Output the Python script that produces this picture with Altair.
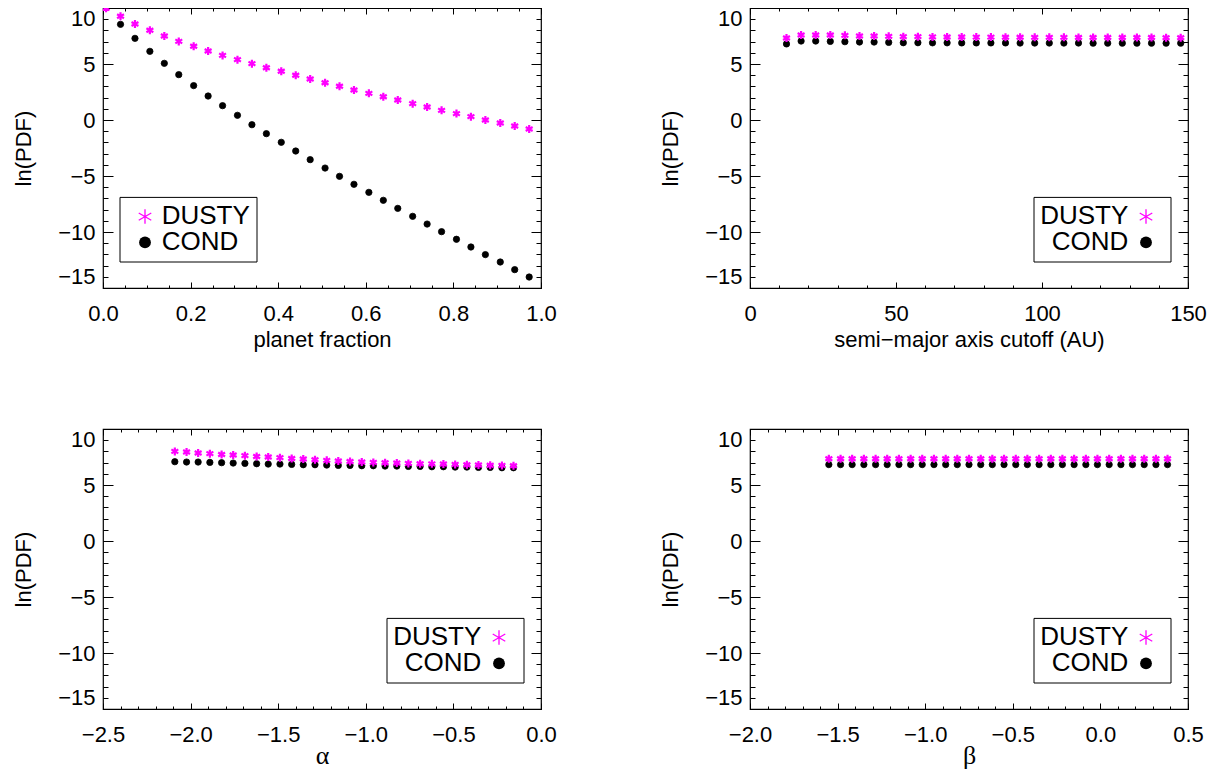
import altair as alt
import pandas as pd

# ---------------- data ----------------
series_names = ["DUSTY", "COND"]

# panel 1: planet fraction
pf_x = [0.007, 0.040, 0.073, 0.107, 0.140, 0.173, 0.207, 0.240, 0.273, 0.307,
        0.340, 0.373, 0.407, 0.440, 0.473, 0.507, 0.540, 0.573, 0.607, 0.640,
        0.673, 0.707, 0.740, 0.773, 0.807, 0.840, 0.873, 0.907, 0.940, 0.973]
pf_dusty = [9.98, 9.26, 8.57, 8.01, 7.50, 7.02, 6.58, 6.16, 5.77, 5.39,
            5.03, 4.67, 4.35, 3.99, 3.66, 3.33, 3.01, 2.68, 2.38, 2.08,
            1.79, 1.46, 1.16, 0.86, 0.57, 0.30, 0.00, -0.27, -0.54, -0.80]
pf_cond = [10.05, 8.54, 7.29, 6.13, 5.06, 4.05, 3.07, 2.14, 1.28, 0.42,
           -0.42, -1.22, -1.99, -2.77, -3.54, -4.29, -5.03, -5.74, -6.46, -7.17,
           -7.89, -8.60, -9.29, -9.97, -10.65, -11.34, -12.02, -12.68, -13.36, -14.02]

# panel 2: semi-major axis cutoff (AU)
sa_x = [12.5, 17.5, 22.5, 27.5, 32.5, 37.5, 42.5, 47.5, 52.5, 57.5,
        62.5, 67.5, 72.5, 77.5, 82.5, 87.5, 92.5, 97.5, 102.5, 107.5,
        112.5, 117.5, 122.5, 127.5, 132.5, 137.5, 142.5, 147.5]
sa_dusty = [7.32, 7.59, 7.59, 7.59, 7.56, 7.50, 7.50, 7.47, 7.44, 7.44,
            7.42, 7.41, 7.41, 7.40, 7.40, 7.39, 7.39, 7.38, 7.38, 7.38,
            7.37, 7.37, 7.37, 7.36, 7.36, 7.36, 7.35, 7.35]
sa_cond = [6.79, 7.05, 7.05, 7.02, 6.99, 6.96, 6.96, 6.93, 6.90, 6.90,
           6.89, 6.89, 6.88, 6.88, 6.88, 6.88, 6.87, 6.87, 6.87, 6.87,
           6.87, 6.86, 6.86, 6.86, 6.86, 6.86, 6.86, 6.86]

# panel 3: alpha
al_x = [-2.090, -2.023, -1.957, -1.890, -1.823, -1.757, -1.690, -1.623, -1.557, -1.490,
        -1.423, -1.357, -1.290, -1.223, -1.157, -1.090, -1.023, -0.957, -0.890, -0.823,
        -0.757, -0.690, -0.623, -0.557, -0.490, -0.423, -0.357, -0.290, -0.223, -0.157]
al_dusty = [8.00, 7.94, 7.86, 7.80, 7.73, 7.68, 7.62, 7.55, 7.50, 7.44,
            7.37, 7.32, 7.26, 7.20, 7.14, 7.10, 7.06, 7.02, 6.99, 6.96,
            6.93, 6.90, 6.89, 6.87, 6.84, 6.81, 6.78, 6.77, 6.75, 6.72]
al_cond = [7.08, 7.05, 7.05, 7.02, 6.99, 6.96, 6.93, 6.90, 6.87, 6.87,
           6.84, 6.81, 6.81, 6.78, 6.75, 6.75, 6.72, 6.72, 6.69, 6.69,
           6.66, 6.66, 6.63, 6.63, 6.60, 6.60, 6.57, 6.57, 6.54, 6.54]

# panel 4: beta
be_x = [-1.550, -1.483, -1.417, -1.350, -1.283, -1.217, -1.150, -1.083, -1.017, -0.950,
        -0.883, -0.817, -0.750, -0.683, -0.617, -0.550, -0.483, -0.417, -0.350, -0.283,
        -0.217, -0.150, -0.083, -0.017, 0.050, 0.117, 0.183, 0.250, 0.317, 0.383]
be_dusty = [7.34, 7.34, 7.34, 7.34, 7.34, 7.34, 7.34, 7.34, 7.34, 7.34,
            7.34, 7.34, 7.34, 7.34, 7.34, 7.34, 7.34, 7.34, 7.34, 7.34,
            7.34, 7.34, 7.34, 7.34, 7.34, 7.34, 7.34, 7.34, 7.34, 7.34]
be_cond = [6.82, 6.82, 6.82, 6.82, 6.82, 6.82, 6.82, 6.82, 6.82, 6.82,
           6.82, 6.82, 6.82, 6.82, 6.82, 6.82, 6.82, 6.82, 6.82, 6.82,
           6.82, 6.82, 6.82, 6.82, 6.82, 6.82, 6.82, 6.82, 6.82, 6.82]

# axis ticks
y_major = [-15, -10, -5, 0, 5, 10]
y_minor = [v for v in range(-15, 11)]
pf_major = [0.0, 0.2, 0.4, 0.6, 0.8, 1.0]
pf_minor = [round(i * 0.05, 3) for i in range(21)]
sa_major = [0, 50, 100, 150]
sa_minor = [i * 10 for i in range(16)]
al_major = [-2.5, -2.0, -1.5, -1.0, -0.5, 0.0]
al_minor = [round(-2.5 + i * 0.1, 2) for i in range(26)]
be_major = [-2.0, -1.5, -1.0, -0.5, 0.0, 0.5]
be_minor = [round(-2.0 + i * 0.1, 2) for i in range(26)]

# ---------------- styling ----------------
W, H = 438, 280
FONT = "Liberation Sans"
SERIF = "Liberation Serif"
MAGENTA = "#ff00ff"
ASTER = "M0,-1L0,1M-0.866,-0.5L0.866,0.5M-0.866,0.5L0.866,-0.5"


def panel(x, dusty, cond, xdom, xmajor, xminor, xfmt, xtitle, legend_side,
          title_font=FONT, title_size=22, title_pad=5):
    n = len(x)
    df = pd.DataFrame({
        "x": list(x) + list(x),
        "y": list(cond) + list(dusty),
        "model": [series_names[1]] * n + [series_names[0]] * n,
    })
    xs = alt.Scale(domain=xdom, nice=False, zero=False)
    ys = alt.Scale(domain=[-15, 10], nice=False, zero=False)
    dom = ["COND", "DUSTY"]

    pts = alt.Chart(df).mark_point(filled=True, opacity=1, clip=True).encode(
        x=alt.X("x:Q", scale=xs, axis=alt.Axis(
            values=xmajor, format=xfmt, title=xtitle, ticks=False, tickSize=0,
            domain=False, grid=False, labelPadding=15, labelFont=FONT,
            labelFontSize=22, labelColor="black", labelFlush=False,
            labelOverlap=False, titleFont=title_font, titleFontSize=title_size,
            titleFontWeight="normal", titleColor="black", titlePadding=title_pad)),
        y=alt.Y("y:Q", scale=ys, axis=alt.Axis(
            values=y_major, format="d", title="ln(PDF)", ticks=False, tickSize=0,
            domain=False, grid=False, labelPadding=8, labelFont=FONT,
            labelFontSize=22, labelColor="black", labelFlush=True,
            labelOverlap=False, titleFont=FONT, titleFontSize=22,
            titleFontWeight="normal", titleColor="black", titlePadding=22)),
        shape=alt.Shape("model:N", scale=alt.Scale(domain=dom, range=["circle", ASTER]), legend=None),
        fill=alt.Fill("model:N", scale=alt.Scale(domain=dom, range=["black", MAGENTA]), legend=None),
        stroke=alt.Stroke("model:N", scale=alt.Scale(domain=dom, range=["black", MAGENTA]), legend=None),
        size=alt.Size("model:N", scale=alt.Scale(domain=dom, range=[40, 64]), legend=None),
        strokeWidth=alt.StrokeWidth("model:N", scale=alt.Scale(domain=dom, range=[0.8, 2.2]), legend=None),
    )

    def ticks(xvals, yvals, xlen, ylen, low):
        common = dict(labels=False, domain=False, grid=False, title=None,
                      ticks=True, tickColor="black", tickWidth=1)
        if low:
            ya = alt.Axis(orient="right", offset=-W, values=yvals, tickSize=ylen, **common)
            xa = alt.Axis(orient="top", offset=-H, values=xvals, tickSize=xlen, **common)
        else:
            ya = alt.Axis(orient="left", offset=-W, values=yvals, tickSize=ylen, **common)
            xa = alt.Axis(orient="bottom", offset=-H, values=xvals, tickSize=xlen, **common)
        return alt.Chart(df).mark_point(opacity=0).encode(
            x=alt.X("x:Q", scale=xs, axis=xa), y=alt.Y("y:Q", scale=ys, axis=ya))

    t1 = ticks(xmajor, y_major, 6, 10, True)
    t2 = ticks(xminor, y_minor, 3, 5, True)
    t3 = ticks(xmajor, y_major, 6, 10, False)
    t4 = ticks(xminor, y_minor, 3, 5, False)

    one = pd.DataFrame({"k": [0]})
    if legend_side == "left":
        bx0, bx1 = 17, 154
        sym_x = 42
        txt_x, txt_align = 58.7, "left"
    else:
        bx0, bx1 = 284, 421
        sym_x = 396
        txt_x, txt_align = 378.3, "right"
    by0, by1 = 189.4, 254
    box = alt.Chart(one).mark_rect(fill="white", stroke="black", strokeWidth=1).encode(
        x=alt.value(bx0), x2=alt.value(bx1), y=alt.value(by0), y2=alt.value(by1))
    t_d = alt.Chart(one).mark_text(font=FONT, fontSize=26, color="black", align=txt_align,
                                   baseline="alphabetic").encode(
        x=alt.value(txt_x), y=alt.value(215.7), text=alt.value(series_names[0]))
    t_c = alt.Chart(one).mark_text(font=FONT, fontSize=26, color="black", align=txt_align,
                                   baseline="alphabetic").encode(
        x=alt.value(txt_x), y=alt.value(241.7), text=alt.value(series_names[1]))
    s_d = alt.Chart(one).mark_point(shape=ASTER, filled=False, stroke=MAGENTA, strokeWidth=1.3,
                                    size=210, opacity=1).encode(
        x=alt.value(sym_x), y=alt.value(208.6))
    s_c = alt.Chart(one).mark_point(shape="circle", filled=True, fill="black", size=140,
                                    opacity=1).encode(
        x=alt.value(sym_x), y=alt.value(234.4))

    return alt.layer(t1, t2, t3, t4, pts, box, t_d, t_c, s_d, s_c).resolve_scale(
        x="independent", y="independent", shape="independent", fill="independent",
        stroke="independent", size="independent", strokeWidth="independent"
    ).properties(width=W, height=H)


p1 = panel(pf_x, pf_dusty, pf_cond, [0, 1], pf_major, pf_minor, ".1f", "planet fraction", "left")
p2 = panel(sa_x, sa_dusty, sa_cond, [0, 150], sa_major, sa_minor, "d",
           "semi\u2212major axis cutoff (AU)", "right")
p3 = panel(al_x, al_dusty, al_cond, [-2.5, 0.0], al_major, al_minor, ".1f", "\u03b1", "right",
           title_font=SERIF, title_size=26, title_pad=-3)
p4 = panel(be_x, be_dusty, be_cond, [-2.0, 0.5], be_major, be_minor, ".1f", "\u03b2", "right",
           title_font=SERIF, title_size=26, title_pad=-3)

chart = alt.concat(p1, p2, p3, p4, columns=2, spacing={"row": 141, "column": 209},
                   bounds="flush").properties(
    padding={"left": 4, "top": -4, "right": 5, "bottom": 0},
    background="white",
).configure_view(stroke="black", strokeWidth=1.2)

chart.save("out.html", embed_options={"renderer": "svg", "actions": False})
